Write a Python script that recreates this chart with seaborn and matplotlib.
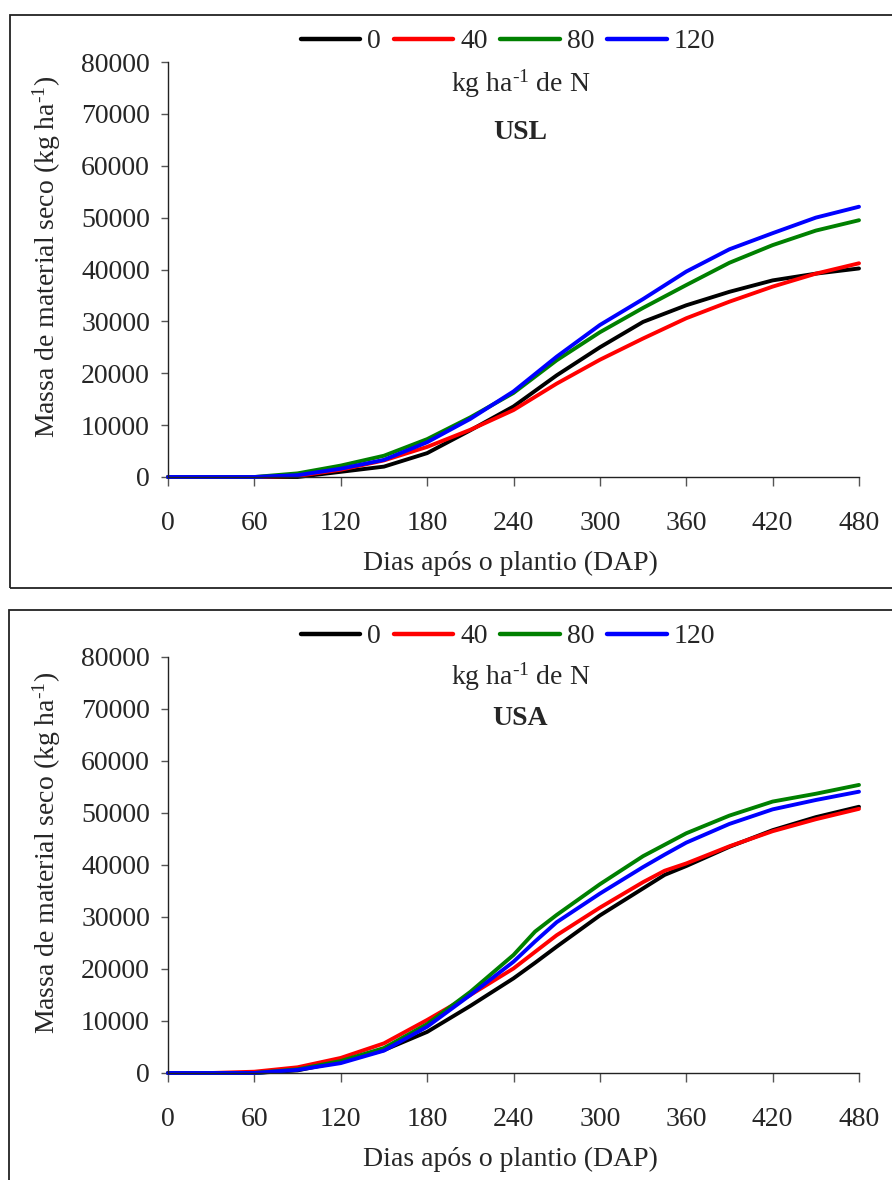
import numpy as np
import pandas as pd
import matplotlib
matplotlib.use("Agg")
import matplotlib.pyplot as plt
from matplotlib.patches import Rectangle
import seaborn as sns

# Nitrogen doses (kg ha-1 de N)
doses = ["0", "40", "80", "120"]
colors = ["#000000", "#FF0000", "#008000", "#0000FF"]

# USL: sampling days and dry-matter mass per dose
dap_usl = [0, 30, 60, 90, 120, 150, 180, 210, 240, 270, 300, 330, 360, 390, 420, 450, 480]
usl_0 = [0, 0, 0, 0, 1000, 2000, 4600, 9000, 13600, 19600, 25000, 29900, 33100, 35700, 37900, 39200, 40200]
usl_40 = [0, 0, 0, 200, 1400, 3200, 5800, 9100, 12900, 18000, 22600, 26700, 30600, 33800, 36700, 39200, 41200]
usl_80 = [0, 0, 0, 700, 2200, 4100, 7300, 11500, 16200, 22500, 27900, 32600, 37000, 41300, 44700, 47500, 49500]
usl_120 = [0, 0, 0, 350, 1600, 3300, 6700, 11200, 16500, 23200, 29300, 34300, 39600, 43900, 47000, 50000, 52100]

# USA: sampling days and dry-matter mass per dose
dap_usa = [0, 30, 60, 90, 120, 150, 180, 210, 240, 255, 270, 300, 330, 345, 360, 390, 420, 450, 480]
usa_0 = [0, 0, 0, 500, 2200, 4400, 7900, 12900, 18200, 21200, 24300, 30300, 35500, 38100, 39800, 43500, 46700, 49200, 51200]
usa_40 = [0, 0, 250, 1100, 2900, 5700, 10200, 15000, 20100, 23300, 26500, 31800, 36700, 38900, 40300, 43600, 46500, 48800, 50800]
usa_80 = [0, 0, 0, 700, 2300, 4800, 9400, 15600, 22700, 27200, 30400, 36300, 41700, 43900, 46100, 49500, 52200, 53700, 55400]
usa_120 = [0, 0, 0, 600, 1900, 4300, 8900, 15000, 21400, 25300, 29000, 34500, 39600, 42000, 44300, 47900, 50700, 52500, 54100]

x_ticks = [0, 60, 120, 180, 240, 300, 360, 420, 480]
y_ticks = [0, 10000, 20000, 30000, 40000, 50000, 60000, 70000, 80000]


def long_table(days, series):
    frames = []
    for dose, vals in zip(doses, series):
        frames.append(pd.DataFrame({"DAP": days, "massa": vals, "dose": dose}))
    return pd.concat(frames, ignore_index=True)


df_usl = long_table(dap_usl, [usl_0, usl_40, usl_80, usl_120])
df_usa = long_table(dap_usa, [usa_0, usa_40, usa_80, usa_120])

sns.set_style("white")
plt.rcParams["font.family"] = ["Liberation Serif", "DejaVu Serif"]
plt.rcParams["mathtext.fontset"] = "custom"
plt.rcParams["mathtext.rm"] = "Liberation Serif"
plt.rcParams["mathtext.it"] = "Liberation Serif:italic"
plt.rcParams["mathtext.bf"] = "Liberation Serif:bold"

W, H = 892, 1180
fig = plt.figure(figsize=(W / 100, H / 100), dpi=100)
fig.patch.set_facecolor("white")

FS = 20
palette = dict(zip(doses, colors))
SUP = r"$^{\text{-1}}$"


def px_axes(left, top, right, bottom):
    return fig.add_axes([left / W, 1 - bottom / H, (right - left) / W, (bottom - top) / H])


def draw_panel(ax, df, site, kg_y, site_y, xlab_y):
    sns.lineplot(data=df, x="DAP", y="massa", hue="dose", hue_order=doses,
                 palette=palette, linewidth=2.8, errorbar=None, legend=False, ax=ax)
    for ln in ax.lines:
        ln.set_clip_on(False)
        ln.set_solid_capstyle("round")
        ln.set_solid_joinstyle("round")
    ax.set_xlim(0, 480)
    ax.set_ylim(0, 80000)
    ax.set_xticks(x_ticks)
    ax.set_yticks(y_ticks)
    ax.set_xticklabels([str(v) for v in x_ticks])
    ax.set_yticklabels([str(v) for v in y_ticks])
    for s in ["top", "right"]:
        ax.spines[s].set_visible(False)
    for s in ["left", "bottom"]:
        ax.spines[s].set_color("#222222")
        ax.spines[s].set_linewidth(1.0)
    ax.tick_params(axis="x", direction="out", length=6.5, width=1.0, color="#555555",
                   pad=18, labelsize=FS, bottom=True)
    ax.tick_params(axis="y", direction="out", length=5, width=1.0, color="#555555",
                   pad=8, labelsize=FS, left=True)
    ax.set_xlabel("Dias após o plantio (DAP)", fontsize=FS)
    ax.set_ylabel("Massa de material seco (kg ha" + SUP + ")", fontsize=FS)
    ax.xaxis.set_label_coords(0.495, xlab_y)
    ax.yaxis.set_label_coords(-0.152, 0.53)

    leg = ax.legend(ax.lines[:4], doses, loc="center", bbox_to_anchor=(0.492, 1.049),
                    ncol=4, frameon=False, fontsize=FS, handlelength=2.15,
                    handletextpad=0.25, columnspacing=0.45, borderpad=0, borderaxespad=0)
    for h in leg.legend_handles:
        h.set_linewidth(3.2)
    ax.text(0.51, kg_y, "kg ha" + SUP + " de N", transform=ax.transAxes,
            ha="center", va="center", fontsize=FS)
    ax.text(0.51, site_y, site, transform=ax.transAxes, ha="center", va="center",
            fontsize=FS, fontweight="bold")


ax1 = px_axes(168, 62, 859, 477)
draw_panel(ax1, df_usl, "USL", 0.948, 0.831, -0.178)
ax2 = px_axes(168, 657, 859, 1073)
draw_panel(ax2, df_usa, "USA", 0.953, 0.851, -0.178)

# Frames around each panel
for (x0, y0, x1, y1) in [(10, 15, 905, 588), (9, 610, 905, 1195)]:
    fig.patches.append(Rectangle((x0 / W, 1 - y1 / H), (x1 - x0) / W, (y1 - y0) / H,
                                 transform=fig.transFigure, fill=False,
                                 edgecolor="#222222", linewidth=1.3, clip_on=False))

fig.savefig("out.png", dpi=100, facecolor="white")
